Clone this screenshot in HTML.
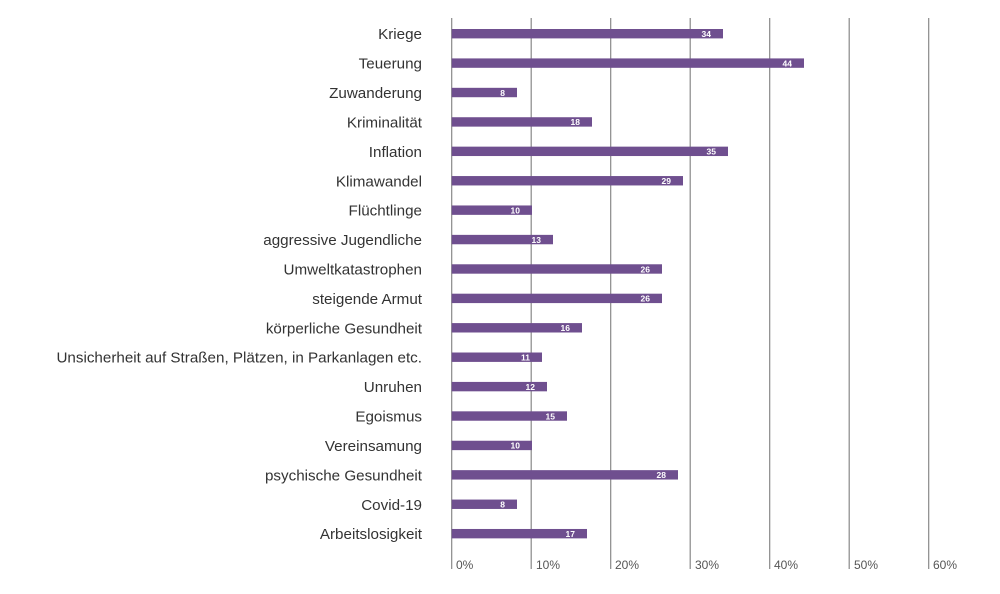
<!DOCTYPE html>
<html><head><meta charset="utf-8"><style>
body{margin:0;background:#fff;}
svg text{font-family:"Liberation Sans",sans-serif;}
</style></head><body>
<svg width="1000" height="589" viewBox="0 0 1000 589">
<g stroke="#888" stroke-width="1.2">
<line x1="451.7" y1="18" x2="451.7" y2="569"/>
<line x1="531.2" y1="18" x2="531.2" y2="569"/>
<line x1="610.7" y1="18" x2="610.7" y2="569"/>
<line x1="690.2" y1="18" x2="690.2" y2="569"/>
<line x1="769.7" y1="18" x2="769.7" y2="569"/>
<line x1="849.2" y1="18" x2="849.2" y2="569"/>
<line x1="928.7" y1="18" x2="928.7" y2="569"/>
</g>
<g font-size="12" fill="#555">
<text x="456" y="569">0%</text><text x="536" y="569">10%</text><text x="615" y="569">20%</text>
<text x="695" y="569">30%</text><text x="774" y="569">40%</text><text x="854" y="569">50%</text><text x="933" y="569">60%</text>
</g>
<g id="bars"></g>
</svg>
<script>
var d=[["Kriege",34,723],["Teuerung",44,804],["Zuwanderung",8,517],["Kriminalität",18,592],["Inflation",35,728],["Klimawandel",29,683],["Flüchtlinge",10,532],["aggressive Jugendliche",13,553],["Umweltkatastrophen",26,662],["steigende Armut",26,662],["körperliche Gesundheit",16,582],["Unsicherheit auf Straßen, Plätzen, in Parkanlagen etc.",11,542],["Unruhen",12,547],["Egoismus",15,567],["Vereinsamung",10,532],["psychische Gesundheit",28,678],["Covid-19",8,517],["Arbeitslosigkeit",17,587]];
var g=document.getElementById('bars'),s='';
d.forEach(function(r,i){var c=33.7+i*29.41,w=r[2]-451.7;
s+='<rect x="451.7" y="'+(c-4.7)+'" width="'+w+'" height="9.4" fill="#6f4f8f"/>';
s+='<text x="'+(r[2]-12)+'" y="'+(c+3.3)+'" font-size="8.5" font-weight="bold" fill="#fff" text-anchor="end">'+r[1]+'</text>';
s+='<text x="422" y="'+(c+5.5)+'" font-size="15.2" fill="#333" text-anchor="end">'+r[0]+'</text>';});
g.innerHTML=s;
</script>
</body></html>
